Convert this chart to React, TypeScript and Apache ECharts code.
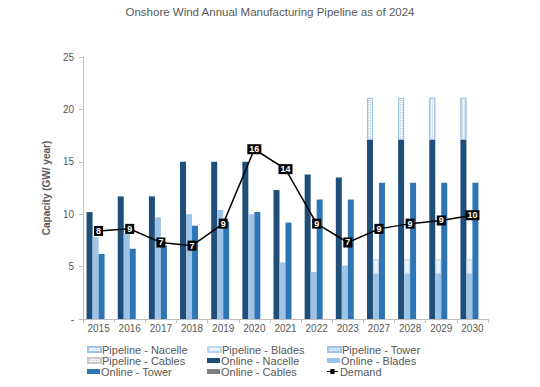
import React, { useEffect, useRef } from "react";
import * as echarts from "echarts";

const years = ["2015", "2016", "2017", "2018", "2019", "2020", "2021", "2022", "2023", "2027", "2028", "2029", "2030"];
const onlineNacelle = [10.2, 11.7, 11.7, 15.0, 15.0, 15.0, 12.3, 13.8, 13.5, 17.1, 17.1, 17.1, 17.1];
const onlineBlades = [7.8, 8.2, 9.7, 10.0, 10.4, 10.0, 5.4, 4.5, 5.1, 4.3, 4.3, 4.3, 4.3];
const onlineTower = [6.2, 6.7, 7.0, 8.9, 9.3, 10.2, 9.2, 11.4, 11.4, 13.0, 13.0, 13.0, 13.0];
const onlineCables = [0, 0, 0, 0, 0, 0, 0, 0, 0, 0, 0, 0, 0];
const pipelineNacelle = [0, 0, 0, 0, 0, 0, 0, 0, 0, 4.0, 4.0, 4.0, 4.0];
const pipelineBlades = [0, 0, 0, 0, 0, 0, 0, 0, 0, 1.4, 1.4, 1.4, 1.4];
const pipelineTower = [0, 0, 0, 0, 0, 0, 0, 0, 0, 0, 0, 0, 0];
const pipelineCables = [0, 0, 0, 0, 0, 0, 0, 0, 0, 0, 0, 0, 0];
const demand = [8.4, 8.6, 7.3, 7.0, 9.1, 16.2, 14.3, 9.1, 7.3, 8.6, 9.1, 9.4, 9.9];

const legendRows = [
  ["Pipeline - Nacelle", "Pipeline - Blades", "Pipeline - Tower"],
  ["Pipeline - Cables", "Online - Nacelle", "Online - Blades"],
  ["Online - Tower", "Online - Cables", "Demand"],
];

const FONT = "'Liberation Sans', Arial, sans-serif";
const TXT = "#595959";

const nz = (arr: number[]) => arr.map((v) => (v === 0 ? "-" : v));

export default function App() {
  const ref = useRef<HTMLDivElement>(null);
  useEffect(() => {
    if (!ref.current) return;
    const chart = echarts.init(ref.current, undefined, { renderer: "svg" });
    const dotDecal = (color: string) => ({
      symbol: "rect",
      symbolSize: 1,
      color,
      dashArrayX: [1, 1],
      dashArrayY: [1, 1],
      rotation: 0,
    });
    const barBase = { type: "bar", barWidth: 6, barGap: "0%" };
    const colX = [87, 207, 327];
    const rowY = [344, 355, 366];
    const legends: any[] = [];
    legendRows.forEach((row, r) =>
      row.forEach((name, c) =>
        legends.push({
          orient: "horizontal",
          left: colX[c],
          top: rowY[r],
          itemWidth: 13,
          itemHeight: 5,
          padding: 0,
          icon: "rect",
          textStyle: { color: TXT, fontSize: 11, fontFamily: FONT, lineHeight: 11, padding: [0, 0, 0, -4] },
          data: [
            name === "Demand"
              ? { name, icon: "path://M0,4.5L4,4.5L4,2L9,2L9,4.5L13,4.5L13,5.5L9,5.5L9,8L4,8L4,5.5L0,5.5Z" }
              : name,
          ],
        })
      )
    );
    chart.setOption({
      animation: false,
      textStyle: { fontFamily: FONT },
      title: {
        text: "Onshore Wind Annual Manufacturing Pipeline as of 2024",
        left: "center",
        top: 1,
        textStyle: { color: TXT, fontSize: 11.5, fontWeight: "normal", fontFamily: FONT },
      },
      legend: legends,
      grid: { left: 83, right: 52, top: 57, bottom: 68 },
      xAxis: {
        type: "category",
        data: years,
        axisLine: { lineStyle: { color: "#bfbfbf" } },
        axisTick: { show: true, alignWithLabel: false, lineStyle: { color: "#bfbfbf" }, length: 4 },
        axisLabel: { color: TXT, fontSize: 10, margin: 4 },
      },
      yAxis: {
        type: "value",
        min: 0,
        max: 25,
        interval: 5,
        name: "Capacity (GW/ year)",
        nameLocation: "middle",
        nameGap: 17,
        nameTextStyle: { color: TXT, fontSize: 10, fontWeight: "bold" },
        axisLine: { show: true, lineStyle: { color: "#bfbfbf" } },
        axisTick: { show: true, length: 4, lineStyle: { color: "#bfbfbf" } },
        splitLine: { show: false },
        axisLabel: { color: TXT, fontSize: 10, margin: 9, formatter: (v: number) => (v === 0 ? "-" : String(v)) },
      },
      series: [
        { ...barBase, name: "Online - Nacelle", stack: "nacelle", data: nz(onlineNacelle), itemStyle: { color: "#1f4e79" } },
        {
          ...barBase,
          name: "Pipeline - Nacelle",
          stack: "nacelle",
          data: nz(pipelineNacelle),
          itemStyle: { color: "#f2f5fa", borderColor: "#9dc3e6", borderWidth: 1, decal: dotDecal("#c3cfdf") },
        },
        { ...barBase, name: "Online - Blades", stack: "blades", data: nz(onlineBlades), itemStyle: { color: "#9dc3e6" } },
        {
          ...barBase,
          name: "Pipeline - Blades",
          stack: "blades",
          data: nz(pipelineBlades),
          itemStyle: { color: "#eaf2fa", borderColor: "#bcd6ef", borderWidth: 1 },
        },
        { ...barBase, name: "Online - Tower", stack: "tower", data: nz(onlineTower), itemStyle: { color: "#2e75b6" } },
        {
          ...barBase,
          name: "Pipeline - Tower",
          stack: "tower",
          data: nz(pipelineTower),
          itemStyle: { color: "#dce8f5", borderColor: "#9dc3e6", borderWidth: 1, decal: dotDecal("#9dc3e6") },
        },
        { ...barBase, name: "Online - Cables", stack: "cables", data: nz(onlineCables), itemStyle: { color: "#808080" } },
        {
          ...barBase,
          name: "Pipeline - Cables",
          stack: "cables",
          data: nz(pipelineCables),
          itemStyle: { color: "#f4f4f4", borderColor: "#c8c8c8", borderWidth: 1, decal: dotDecal("#cccccc") },
        },
        {
          type: "line",
          name: "Demand",
          data: demand,
          z: 5,
          symbol: "rect",
          symbolSize: 7,
          itemStyle: { color: "#000" },
          lineStyle: { color: "#000", width: 1.5 },
          label: {
            show: true,
            position: "inside",
            color: "#fff",
            fontWeight: "bold",
            fontSize: 9,
            backgroundColor: "#000",
            padding: [1, 2, 0, 2],
            formatter: (p: any) => String(Math.round(p.value)),
          },
        },
      ],
    });
    return () => chart.dispose();
  }, []);
  return <div ref={ref} style={{ width: 540, height: 387, margin: -8 }} />;
}
